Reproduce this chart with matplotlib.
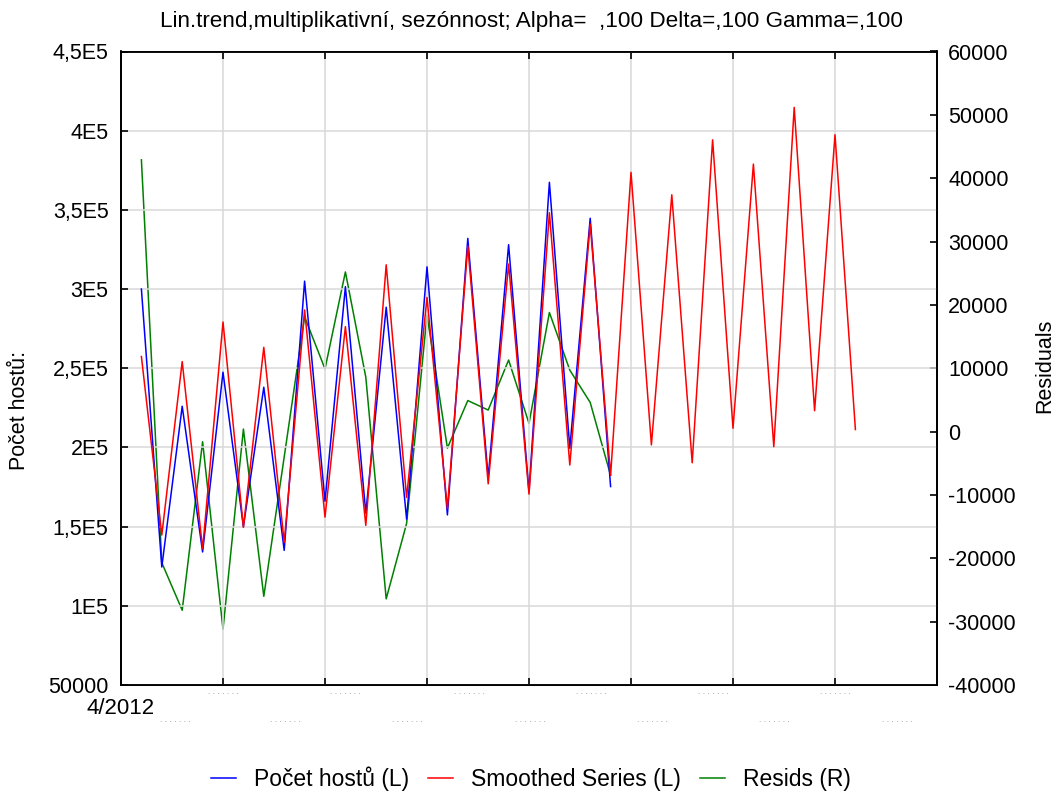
import numpy as np
import matplotlib
matplotlib.use("Agg")
import matplotlib.pyplot as plt
from matplotlib.lines import Line2D
from matplotlib import transforms

# ============================================================
# DONNÉES
# ============================================================
# index 0 = 4/2012, mensuel ; 24 observations + 12 prévisions
pocet_hostu = [300000, 124500, 226000, 134000, 247500, 150000, 238000, 135000,
               305000, 166000, 301500, 158500, 288500, 154700, 314000, 157400,
               332000, 181000, 328000, 172000, 367400, 199500, 344700, 175300]

smoothed = [257400, 144700, 254200, 136000, 279200, 149500, 263200, 140000,
            286800, 156000, 276300, 150800, 315300, 168400, 294700, 161500,
            327100, 177000, 315800, 170500, 348200, 188900, 341100, 182400,
            373700, 201600, 359500, 190300, 394200, 212100, 378900, 200500,
            414700, 223200, 397400, 211300]

resids = [42900, -20700, -28200, -1600, -31200, 400, -26000, -4000,
          18100, 9900, 25200, 8600, -26400, -14500, 18400, -2600,
          4900, 3400, 11300, 1300, 18800, 9700, 4600, -6900]

left_ticks = [50000, 100000, 150000, 200000, 250000, 300000, 350000, 400000, 450000]
left_labels = ["50000", "1E5", "1,5E5", "2E5", "2,5E5", "3E5", "3,5E5", "4E5", "4,5E5"]
right_ticks = list(range(-40000, 60001, 10000))
x_grid = [4, 9, 14, 19, 24, 29, 34]

TITLE = "Lin.trend,multiplikativní, sezónnost; Alpha=  ,100 Delta=,100 Gamma=,100"

# ============================================================
# FIGURE
# ============================================================
plt.rcParams['font.family'] = ['Liberation Sans', 'DejaVu Sans']

W, H = 1058, 791
fig = plt.figure(figsize=(W / 100, H / 100), dpi=100)
ax = fig.add_axes([121 / W, 1 - 685 / H, (937 - 121) / W, (685 - 51.5) / H])
ax2 = ax.twinx()

x_obs = np.arange(len(pocet_hostu))
x_all = np.arange(len(smoothed))

ax.plot(x_obs, pocet_hostu, color='#0000ff', lw=1.1, zorder=3)
ax.plot(x_all, smoothed, color='#ff0000', lw=1.1, zorder=4)
ax2.plot(x_obs, resids, color='#008000', lw=1.1, zorder=2)

ax.set_xlim(-1, 39)
ax.set_ylim(50000, 450000)
ax2.set_ylim(-40000, 60000)

ax.set_yticks(left_ticks)
ax.set_yticklabels(left_labels)
ax2.set_yticks(right_ticks)
ax2.set_yticklabels([str(t) for t in right_ticks])
ax.set_xticks(x_grid)
ax.set_xticklabels([])

ax.grid(True, color='#d9d9d9', lw=1.1)
ax.set_axisbelow(True)
ax.set_zorder(ax2.get_zorder() + 1)
ax.patch.set_visible(False)

for a in (ax, ax2):
    for s in a.spines.values():
        s.set_linewidth(1.3)
ax.tick_params(axis='y', direction='in', length=5, width=1.2, labelsize=15.5, pad=9, right=False)
ax.tick_params(axis='x', direction='in', length=5, width=1.2, top=True)
ax2.tick_params(axis='y', direction='in', length=5, width=1.2, labelsize=15.5, pad=8)

fig.text(531 / W, 1 - 22 / H, TITLE, fontsize=16.2, ha='center', va='center')
fig.text(20 / W, 1 - 410 / H, "Počet hostů:", fontsize=15.5, rotation=90, ha='center', va='center')
fig.text(1045 / W, 1 - 366 / H, "Residuals", fontsize=15.5, rotation=90, ha='center', va='center')

# étiquettes de l'axe x (illisibles dans l'original, rendues en pointillés)
trans = transforms.blended_transform_factory(ax.transData, fig.transFigure)
ax.text(-1, 1 - 708 / H, "4/2012", transform=trans, ha='center', va='center',
        fontsize=16, family=['Liberation Sans Narrow', 'Liberation Sans'])
dots = ". . . . . . ."
row1_x = [208, 330, 454, 576, 698, 820]
row2_x = [160, 270, 392, 515, 637, 759, 882]
for px in row1_x:
    fig.text(px / W, 1 - 693 / H, dots, fontsize=6, color='#8c8c8c', ha='left', va='center')
for px in row2_x:
    fig.text(px / W, 1 - 721 / H, dots, fontsize=6, color='#8c8c8c', ha='left', va='center')

handles = [Line2D([], [], color='#0000ff', lw=1.1),
           Line2D([], [], color='#ff0000', lw=1.1),
           Line2D([], [], color='#008000', lw=1.1)]
fig.legend(handles, ["Počet hostů (L)", "Smoothed Series (L)", "Resids (R)"],
           loc='center', bbox_to_anchor=(531 / W, 1 - 779 / H), ncol=3, frameon=False,
           fontsize=16.5, handlelength=1.1, handletextpad=0.8, columnspacing=0.8)

fig.savefig("out.png", dpi=100)
